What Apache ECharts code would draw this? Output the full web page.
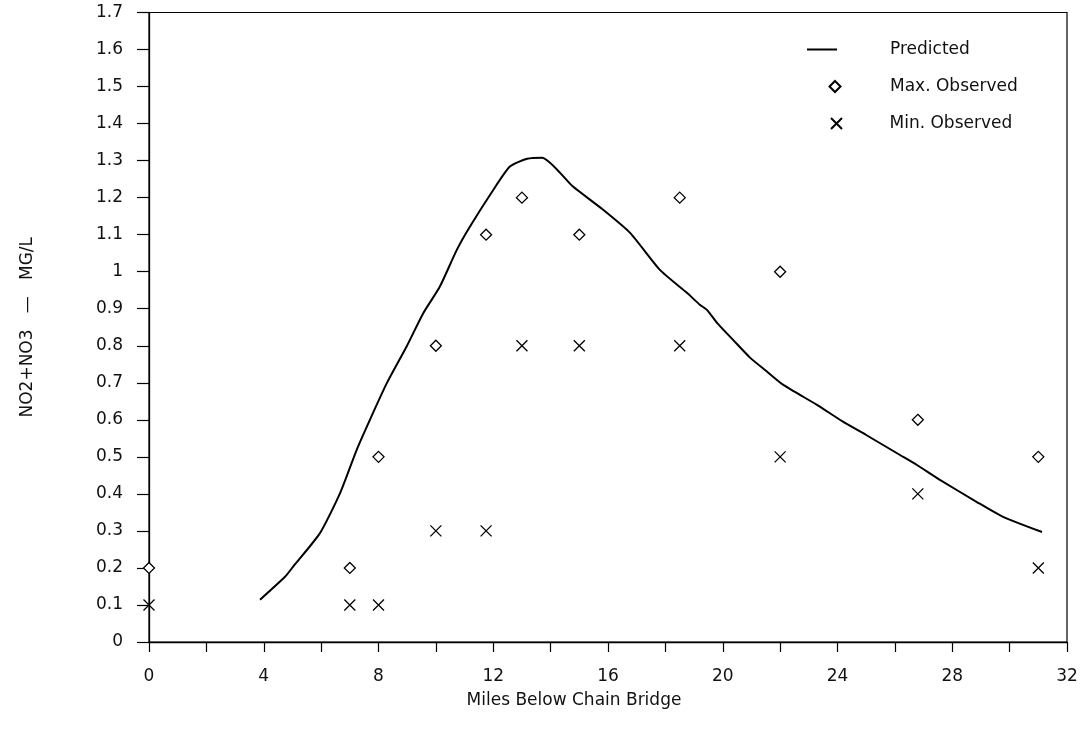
<!DOCTYPE html>
<html>
<head>
<meta charset="utf-8">
<script src="https://cdn.jsdelivr.net/npm/echarts@6/dist/echarts.min.js"></script>
<style>
html,body{margin:0;padding:0;background:#fff;}
#chart{width:1086px;height:733px;}
</style>
</head>
<body>
<div id="chart"></div>
<script>
// Predicted curve (miles, mg/L)
const predMiles = [3.87, 4.74, 5.03, 5.96, 6.66, 7.24, 7.70, 8.29, 8.98, 9.56, 10.14, 10.73, 11.19, 11.96, 12.58, 13.18, 13.70, 14.78, 15.82, 16.77, 17.81, 18.75, 19.20, 19.45, 19.80, 20.36, 20.95, 21.53, 22.10, 23.27, 24.19, 25.00, 26.18, 26.77, 27.57, 28.86, 29.77, 31.13];
const predValues = [0.114, 0.176, 0.204, 0.294, 0.402, 0.519, 0.600, 0.699, 0.798, 0.888, 0.960, 1.059, 1.122, 1.216, 1.284, 1.305, 1.308, 1.230, 1.168, 1.105, 1.005, 0.943, 0.911, 0.897, 0.862, 0.816, 0.768, 0.731, 0.695, 0.641, 0.595, 0.559, 0.505, 0.478, 0.438, 0.378, 0.338, 0.297];
// Observed stations
const obsMiles = [0, 7, 8, 10, 11.75, 13, 15, 18.5, 22, 26.8, 31];
const maxObserved = [0.2, 0.2, 0.5, 0.8, 1.1, 1.2, 1.1, 1.2, 1.0, 0.6, 0.5];
const minObserved = [0.1, 0.1, 0.1, 0.3, 0.3, 0.8, 0.8, 0.8, 0.5, 0.4, 0.2];
const xTickLabels = [0, 4, 8, 12, 16, 20, 24, 28, 32];
const seriesNames = ['Predicted', 'Max. Observed', 'Min. Observed'];

const FONT = 'DejaVu Sans';
const FS = 17;
const legendText = pad => ({fontFamily: FONT, fontSize: FS, color: '#111', padding: [0, 0, 0, pad]});
const chart = echarts.init(document.getElementById('chart'));
chart.setOption({
  backgroundColor: '#fff',
  animation: false,
  grid: {left: 149, right: 19, top: 12.5, bottom: 91, show: true, borderColor: '#000', borderWidth: 1.2, backgroundColor: 'transparent'},
  legend: [
    {
      orient: 'vertical', left: 802, top: 36,
      itemWidth: 30, itemHeight: 2,
      textStyle: legendText(48),
      data: [{name: seriesNames[0], icon: 'rect', itemStyle: {color: '#000'}}]
    },
    {
      orient: 'vertical', left: 823.5, top: 73,
      itemWidth: 11, itemHeight: 11,
      textStyle: legendText(44.5),
      data: [{name: seriesNames[1]}]
    },
    {
      orient: 'vertical', left: 823.5, top: 110,
      itemWidth: 11, itemHeight: 11,
      textStyle: legendText(42.5),
      data: [{name: seriesNames[2]}]
    }
  ],
  xAxis: {
    type: 'value', min: 0, max: 32, interval: 2,
    name: 'Miles Below Chain Bridge', nameLocation: 'middle', nameGap: 50,
    nameTextStyle: {fontFamily: FONT, fontSize: FS, color: '#111', padding: [0, 68, 0, 0]},
    axisLine: {lineStyle: {color: '#000', width: 1.3}},
    axisTick: {show: true, inside: false, length: 10, lineStyle: {color: '#000', width: 1.2}},
    axisLabel: {margin: 26, fontFamily: FONT, fontSize: FS, color: '#111',
      formatter: v => xTickLabels.indexOf(v) >= 0 ? String(v) : ''},
    splitLine: {show: false}
  },
  yAxis: {
    type: 'value', min: 0, max: 1.7, interval: 0.1,
    name: 'NO2+NO3   \u2014   MG/L', nameLocation: 'middle', nameGap: 113, nameRotate: 90,
    nameTextStyle: {fontFamily: FONT, fontSize: FS, color: '#111'},
    axisLine: {lineStyle: {color: '#000', width: 1.3}},
    axisTick: {show: true, inside: false, length: 12, lineStyle: {color: '#000', width: 1.2}},
    axisLabel: {margin: 26, fontFamily: FONT, fontSize: FS, color: '#111',
      formatter: v => String(Math.round(v * 10) / 10)},
    splitLine: {show: false}
  },
  series: [
    {
      name: seriesNames[0], type: 'line', symbol: 'none', smooth: 0.2,
      data: predMiles.map((x, i) => [x, predValues[i]]),
      lineStyle: {color: '#000', width: 2},
      itemStyle: {color: '#000'}
    },
    {
      name: seriesNames[1], type: 'scatter', symbol: 'diamond', symbolSize: [11, 11],
      data: obsMiles.map((x, i) => [x, maxObserved[i]]),
      itemStyle: {color: '#fff', borderColor: '#000', borderWidth: 1.3, opacity: 1}
    },
    {
      name: seriesNames[2], type: 'scatter', symbol: 'path://M0,0L10,10M10,0L0,10', symbolSize: [11, 11],
      data: obsMiles.map((x, i) => [x, minObserved[i]]),
      itemStyle: {color: 'none', borderColor: '#000', borderWidth: 1.3, opacity: 1}
    }
  ]
});
</script>
</body>
</html>
